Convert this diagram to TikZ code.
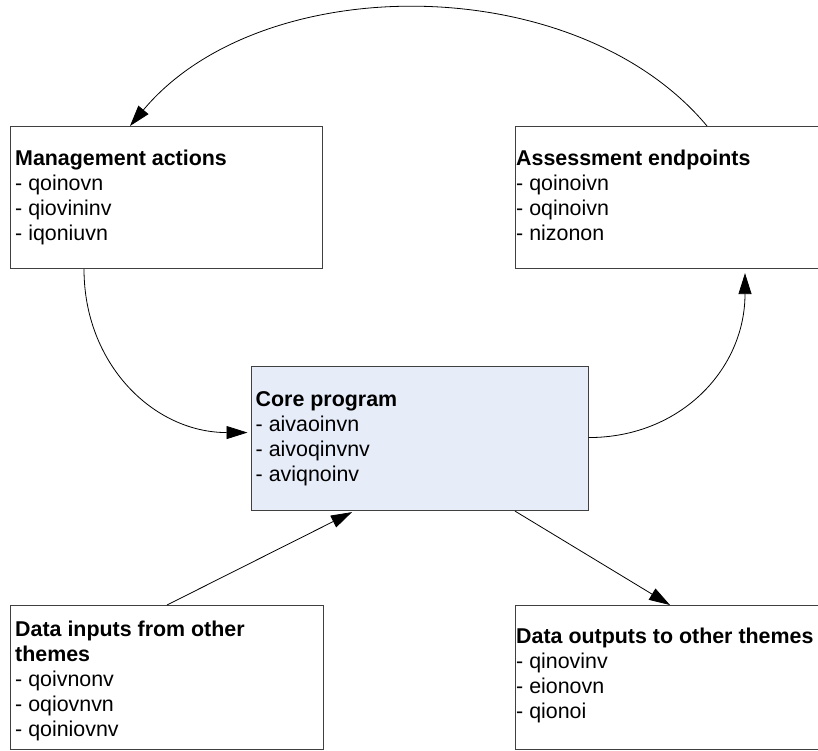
\documentclass[tikz,border=0pt]{standalone}
\usepackage{fontspec}
\setmainfont{Liberation Sans}
\usetikzlibrary{arrows.meta}
\definecolor{corefill}{RGB}{230,236,248}
\definecolor{boxline}{RGB}{64,64,64}
\begin{document}
\begin{tikzpicture}[x=1pt,y=-1pt,
 box/.style={draw=boxline, line width=1.1pt, rectangle, inner sep=0pt, anchor=north west},
 boxtext/.style={anchor=base west, inner sep=0pt, align=left, font=\fontsize{21.4}{25}\selectfont},
 conn/.style={line width=0.8pt, -{Triangle[length=21pt,width=13pt]}}]
\useasboundingbox (0,0) rectangle (818,750);
\clip (0,0) rectangle (818,750);
\fill[white] (0,0) rectangle (818,750);
% boxes
\node[box, minimum width=312pt, minimum height=142pt] (mgmt) at (10,126) {};
\node[box, minimum width=320pt, minimum height=142pt] (assess) at (514.5,126) {};
\node[box, fill=corefill, minimum width=337pt, minimum height=144pt] (core) at (250.5,366) {};
\node[box, minimum width=313pt, minimum height=144pt] (inputs) at (10,605) {};
\node[box, minimum width=320pt, minimum height=144pt] (outputs) at (514.5,605) {};
% texts (anchor at the baseline of the last line)
\node[boxtext] (mgmt-t) at (15,240) {\textbf{Management actions}\\- qoinovn\\- qiovininv\\- iqoniuvn};
\node[boxtext] (assess-t) at (516,240) {\textbf{Assessment endpoints}\\- qoinoivn\\- oqinoivn\\- nizonon};
\node[boxtext] (core-t) at (255.5,481.5) {\textbf{Core program}\\- aivaoinvn\\- aivoqinvnv\\- aviqnoinv};
\node[boxtext] (inputs-t) at (15,736) {\textbf{Data inputs from other}\\\textbf{themes}\\- qoivnonv\\- oqiovnvn\\- qoiniovnv};
\node[boxtext] (outputs-t) at (516,718.5) {\textbf{Data outputs to other themes}\\- qinovinv\\- eionovn\\- qionoi};
% connectors
\draw[conn] ([xshift=192.5pt]assess.north west) .. controls +(-131,-157) and +(131,-157) .. ([xshift=120pt]mgmt.north west);
\draw[conn] ([xshift=74pt]mgmt.south west) .. controls +(0,95) and +(-94,0) .. ([xshift=-3pt,yshift=6pt]core.west);
\draw[conn] ([yshift=1pt]core.east) .. controls +(92,0) and +(0,96) .. ([xshift=230.5pt,yshift=-4pt]assess.south west);
\draw[conn] ([xshift=157pt]inputs.north west) -- ([xshift=101.5pt,yshift=-1pt]core.south west);
\draw[conn] ([xshift=264.5pt]core.south west) -- ([xshift=155.5pt]outputs.north west);
\end{tikzpicture}
\end{document}
